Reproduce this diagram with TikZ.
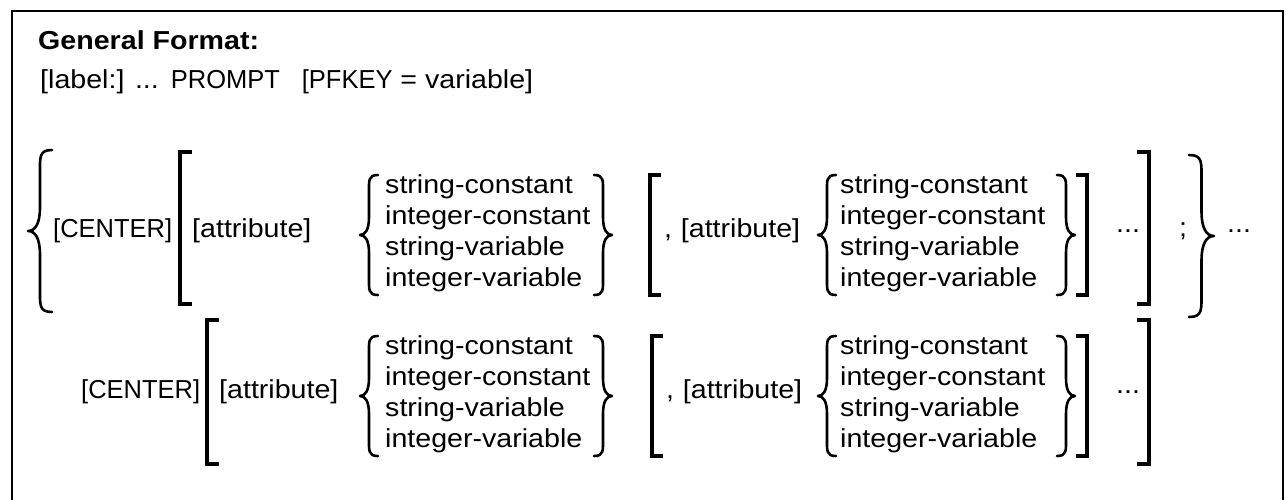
\documentclass[tikz,border=0pt]{standalone}
\usepackage{fontspec}
\setmainfont{Liberation Sans}
\usepackage{graphicx}
\newcommand\lcx[1]{\scalebox{1.1}[1]{#1}}
\newcommand\ucx[1]{\scalebox{0.98}[1]{#1}}
\newcommand\lstx{\lcx{\begin{tabular}{@{}l@{}}string-constant\\integer-constant\\string-variable\\integer-variable\end{tabular}}}
% left curly brace: tip x, top y, bottom y, width
\newcommand\LBrace[4]{%
  \draw[bline] ({#1+#4},#2) .. controls ({#1+0.45*#4},#2) and ({#1+0.5*#4},{#2+0.3*#4}) .. ({#1+0.5*#4},{#2+#4})
    -- ({#1+0.5*#4},{(#2+#3)/2-#4}) .. controls ({#1+0.5*#4},{(#2+#3)/2-0.3*#4}) and ({#1+0.3*#4},{(#2+#3)/2}) .. (#1,{(#2+#3)/2})
    .. controls ({#1+0.3*#4},{(#2+#3)/2}) and ({#1+0.5*#4},{(#2+#3)/2+0.3*#4}) .. ({#1+0.5*#4},{(#2+#3)/2+#4})
    -- ({#1+0.5*#4},{#3-#4}) .. controls ({#1+0.5*#4},{#3-0.3*#4}) and ({#1+0.45*#4},#3) .. ({#1+#4},#3);}
% right curly brace: tip x, top y, bottom y, width
\newcommand\RBrace[4]{%
  \draw[bline] ({#1-#4},#2) .. controls ({#1-0.45*#4},#2) and ({#1-0.5*#4},{#2+0.3*#4}) .. ({#1-0.5*#4},{#2+#4})
    -- ({#1-0.5*#4},{(#2+#3)/2-#4}) .. controls ({#1-0.5*#4},{(#2+#3)/2-0.3*#4}) and ({#1-0.3*#4},{(#2+#3)/2}) .. (#1,{(#2+#3)/2})
    .. controls ({#1-0.3*#4},{(#2+#3)/2}) and ({#1-0.5*#4},{(#2+#3)/2+0.3*#4}) .. ({#1-0.5*#4},{(#2+#3)/2+#4})
    -- ({#1-0.5*#4},{#3-#4}) .. controls ({#1-0.5*#4},{#3-0.3*#4}) and ({#1-0.45*#4},#3) .. ({#1-#4},#3);}
% square brackets: x, top y, bottom y, serif length
\newcommand\LBrk[4]{\draw[brk] ({#1+#4},#2) -- (#1,#2) -- (#1,#3) -- ({#1+#4},#3);}
\newcommand\RBrk[4]{\draw[brk] ({#1-#4},#2) -- (#1,#2) -- (#1,#3) -- ({#1-#4},#3);}
\begin{document}
\begin{tikzpicture}[x=1pt,y=-1pt,
  txt/.style={inner sep=0pt,anchor=west,font=\fontsize{26}{31}\selectfont},
  bline/.style={line width=2.6pt,line cap=round,line join=round},
  brk/.style={line width=3.4pt,line join=miter},
  frame/.style={line width=2.8pt}]
\useasboundingbox (0,0) rectangle (1286,499);
\draw[frame] (12,505) -- (12,11) -- (1283,11) -- (1283,505);
% header lines
\node[txt,font=\fontsize{26}{31}\selectfont\bfseries] (gf) at (38,40) {\lcx{General Format:}};
\node[txt] (lbl) at (40,82) {\lcx{[label:] ...}\hspace{12pt}\ucx{PROMPT}\hspace{22pt}\ucx{[PFKEY}\lcx{ = variable]}};
% ---------- row 1 ----------
\LBrace{28}{150}{312}{24}
\node[txt] (c1) at (53,231) {\ucx{[CENTER]}};
\LBrk{180}{152}{304}{12}
\node[txt] (a1) at (192,231) {\lcx{[attribute]}};
\LBrace{360}{175}{295}{18}
\node[txt] (l1) at (385,234) {\lstx};
\RBrace{612}{175}{295}{18}
\LBrk{650}{175}{295}{11}
\node[txt] (a2) at (664,231) {\lcx{,\hspace{8pt}[attribute]}};
\LBrace{818}{175}{295}{18}
\node[txt] (l2) at (840,234) {\lstx};
\RBrace{1075}{175}{295}{18}
\RBrk{1087}{175}{295}{11}
\node[txt] (d1) at (1116,231) {\lcx{...}};
\RBrk{1149}{152}{304}{12}
\node[txt] (s1) at (1179,231) {\lcx{;}};
\RBrace{1214}{155}{317}{25}
\node[txt] (d2) at (1227,231) {\lcx{...}};
% ---------- row 2 ----------
\node[txt] (c2) at (81,392) {\ucx{[CENTER]}};
\LBrk{207}{320}{464}{12}
\node[txt] (a3) at (219,392) {\lcx{[attribute]}};
\LBrace{360}{336}{456}{18}
\node[txt] (l3) at (385,395) {\lstx};
\RBrace{612}{336}{456}{18}
\LBrk{652}{336}{456}{11}
\node[txt] (a4) at (666,392) {\lcx{,\hspace{8pt}[attribute]}};
\LBrace{818}{336}{456}{18}
\node[txt] (l4) at (840,395) {\lstx};
\RBrace{1075}{336}{456}{18}
\RBrk{1087}{336}{456}{11}
\node[txt] (d3) at (1116,392) {\lcx{...}};
\RBrk{1149}{320}{464}{12}
\end{tikzpicture}
\end{document}
